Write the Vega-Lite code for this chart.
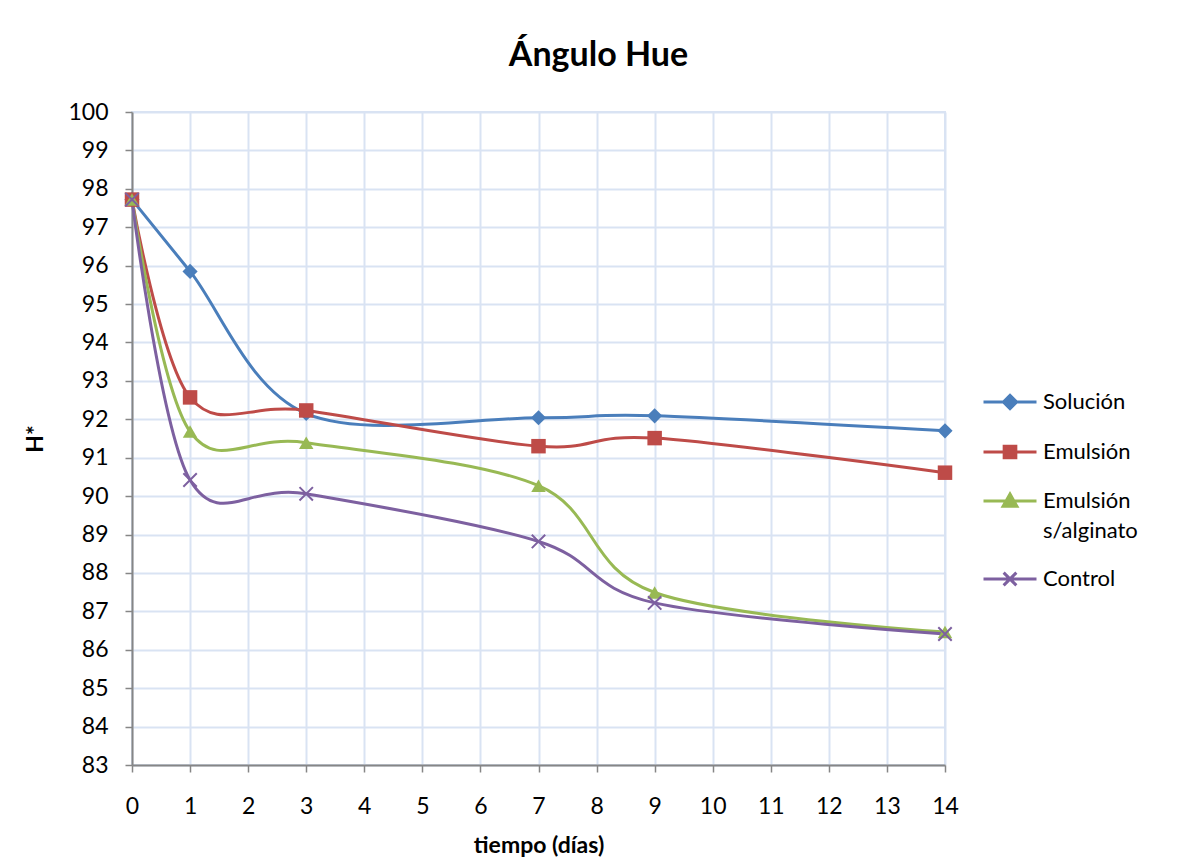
{
  "$schema": "https://vega.github.io/schema/vega-lite/v6.json",
  "width": 813,
  "height": 653,
  "autosize": {"type": "none"},
  "padding": {"left": 132, "top": 112, "right": 232, "bottom": 98},
  "background": "white",
  "title": {
    "text": "Ángulo Hue",
    "font": "Lato",
    "fontSize": 34,
    "fontWeight": "bold",
    "color": "black",
    "anchor": "middle",
    "dx": 60,
    "offset": 28
  },
  "config": {
    "font": "Lato",
    "view": {"stroke": "#D9E3F3", "strokeWidth": 2},
    "style": {"guide-label": {"lineHeight": 30}},
    "axis": {
      "labelFont": "Lato",
      "labelFontSize": 23,
      "labelColor": "black",
      "titleFont": "Lato",
      "titleFontSize": 23,
      "titleFontWeight": "bold",
      "titleColor": "black",
      "gridColor": "#D9E3F3",
      "gridWidth": 2,
      "gridOpacity": 1,
      "domainColor": "#868686",
      "domainWidth": 2,
      "tickColor": "#868686",
      "tickWidth": 1.5,
      "tickSize": 7
    }
  },
  "data": {
    "values": [
      {"series": "Solución", "dia": 0, "h": 97.72},
      {"series": "Solución", "dia": 1, "h": 95.85},
      {"series": "Solución", "dia": 3, "h": 92.15},
      {"series": "Solución", "dia": 7, "h": 92.04},
      {"series": "Solución", "dia": 9, "h": 92.09},
      {"series": "Solución", "dia": 14, "h": 91.70},
      {"series": "Emulsión", "dia": 0, "h": 97.72},
      {"series": "Emulsión", "dia": 1, "h": 92.57},
      {"series": "Emulsión", "dia": 3, "h": 92.23},
      {"series": "Emulsión", "dia": 7, "h": 91.30},
      {"series": "Emulsión", "dia": 9, "h": 91.51},
      {"series": "Emulsión", "dia": 14, "h": 90.61},
      {"series": "Emulsión s/alginato", "dia": 0, "h": 97.72},
      {"series": "Emulsión s/alginato", "dia": 1, "h": 91.68},
      {"series": "Emulsión s/alginato", "dia": 3, "h": 91.39},
      {"series": "Emulsión s/alginato", "dia": 7, "h": 90.27},
      {"series": "Emulsión s/alginato", "dia": 9, "h": 87.49},
      {"series": "Emulsión s/alginato", "dia": 14, "h": 86.46},
      {"series": "Control", "dia": 0, "h": 97.72},
      {"series": "Control", "dia": 1, "h": 90.42},
      {"series": "Control", "dia": 3, "h": 90.06},
      {"series": "Control", "dia": 7, "h": 88.82},
      {"series": "Control", "dia": 9, "h": 87.22},
      {"series": "Control", "dia": 14, "h": 86.41}
    ]
  },
  "encoding": {
    "x": {
      "field": "dia",
      "type": "quantitative",
      "scale": {"domain": [0, 14], "nice": false, "zero": false},
      "axis": {
        "title": "tiempo (días)",
        "values": [0,1,2,3,4,5,6,7,8,9,10,11,12,13,14],
        "format": "d",
        "labelPadding": 23,
        "titlePadding": 16,
        "labelFlush": false
      }
    },
    "y": {
      "field": "h",
      "type": "quantitative",
      "scale": {"domain": [83, 100], "nice": false, "zero": false},
      "axis": {
        "title": "H*",
        "values": [83,84,85,86,87,88,89,90,91,92,93,94,95,96,97,98,99,100],
        "labelPadding": 17,
        "titlePadding": 20,
        "labelFlush": false
      }
    },
    "color": {
      "field": "series",
      "type": "nominal",
      "scale": {
        "domain": ["Solución", "Emulsión", "Emulsión s/alginato", "Control"],
        "range": ["#4A7EBB", "#BE4B48", "#98B954", "#7D60A0"]
      },
      "legend": {
        "title": null,
        "orient": "none",
        "legendX": 850,
        "legendY": 262,
        "labelFont": "Lato",
        "labelFontSize": 22,
        "labelColor": "black",
        "labelOffset": 5,
        "rowPadding": 9,
        "symbolSize": 2809,
        "symbolStrokeWidth": 3,
        "symbolOpacity": 1,
        "labelExpr": "datum.label == 'Emulsión s/alginato' ? ['Emulsión', 's/alginato'] : datum.label"
      }
    }
  },
  "layer": [
    {
      "mark": {"type": "line", "interpolate": "cardinal", "strokeWidth": 3}
    },
    {
      "transform": [{"filter": {"field": "series", "equal": "Solución"}}],
      "mark": {"type": "point", "shape": "diamond", "filled": true, "opacity": 1, "size": 230}
    },
    {
      "transform": [{"filter": {"field": "series", "equal": "Emulsión"}}],
      "mark": {"type": "point", "shape": "square", "filled": true, "opacity": 1, "size": 210}
    },
    {
      "transform": [{"filter": {"field": "series", "equal": "Emulsión s/alginato"}}],
      "mark": {"type": "point", "shape": "triangle-up", "filled": true, "opacity": 1, "size": 210}
    },
    {
      "transform": [{"filter": {"field": "series", "equal": "Control"}}],
      "mark": {"type": "point", "shape": "M-1,-1L1,1M-1,1L1,-1", "filled": false, "opacity": 1, "size": 180, "strokeWidth": 2}
    },
    {
      "mark": {"type": "point", "filled": true, "opacity": 0, "strokeWidth": 3},
      "encoding": {
        "shape": {
          "field": "series",
          "type": "nominal",
          "scale": {
            "domain": ["Solución", "Emulsión", "Emulsión s/alginato", "Control"],
            "range": [
              "M-1,0L1,0M-0.25,0L0,-0.25L0.25,0L0,0.25Z",
              "M-1,0L1,0M-0.22,-0.22L0.22,-0.22L0.22,0.22L-0.22,0.22Z",
              "M-1,0L1,0M0,-0.26L0.26,0.2L-0.26,0.2Z",
              "M-1,0L1,0M-0.24,-0.24L0.24,0.24M-0.24,0.24L0.24,-0.24"
            ]
          },
          "legend": null
        },
        "stroke": {
          "field": "series",
          "type": "nominal",
          "scale": {
            "domain": ["Solución", "Emulsión", "Emulsión s/alginato", "Control"],
            "range": ["#4A7EBB", "#BE4B48", "#98B954", "#7D60A0"]
          },
          "legend": null
        }
      }
    }
  ]
}
